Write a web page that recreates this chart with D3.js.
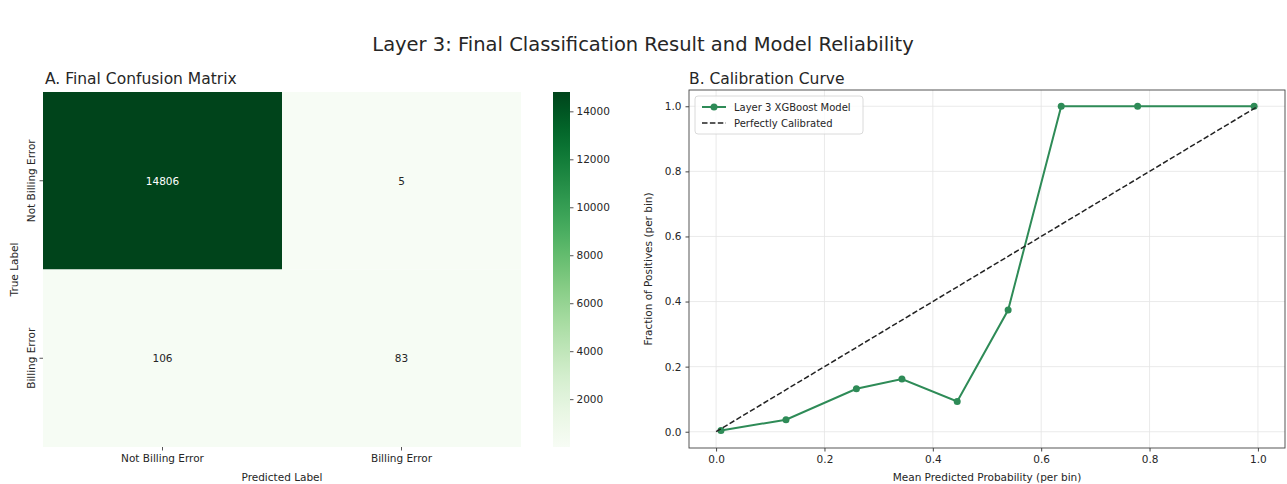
<!DOCTYPE html>
<html>
<head>
<meta charset="utf-8">
<script src="https://cdn.jsdelivr.net/npm/d3@7"></script>
<style>
  body { margin: 0; background: #fff; }
  text { font-family: "DejaVu Sans", sans-serif; fill: #262626; }
</style>
</head>
<body>
<div id="chart"></div>
<script>
// confusion matrix data
let classes = ["Not Billing Error", "Billing Error"];
let matrix = [
    [14806, 5],
    [106, 83]
];
let cbTicks = [2000, 4000, 6000, 8000, 10000, 12000, 14000];

// calibration curve data
let meanPred = [0.009, 0.129, 0.259, 0.343, 0.445, 0.539, 0.637, 0.778, 0.993];
let fracPos = [0.004, 0.037, 0.132, 0.162, 0.093, 0.374, 1.0, 1.0, 1.0];
let perfect = [0, 1];
let probTicks = [0, 0.2, 0.4, 0.6, 0.8, 1.0];

let colorLine = "#2e8b57";
let tickFont = "10.5px";

let width = 1287,
    height = 484;

let svg = d3.select("#chart")
    .append("svg")
    .attr("width", width)
    .attr("height", height);

svg.append("text")
    .attr("x", 643)
    .attr("y", 51)
    .attr("text-anchor", "middle")
    .style("font-size", "19.5px")
    .text("Layer 3: Final Classification Result and Model Reliability");

// ---------- A. confusion matrix ----------
let hm = {left: 43, right: 521, top: 92, bottom: 447};
let flat = matrix.flat();
let color = d3.scaleSequential(d3.interpolateGreens)
    .domain([d3.min(flat), d3.max(flat)]);

let xBand = d3.scaleBand().domain(classes).range([hm.left, hm.right]);
let yBand = d3.scaleBand().domain(classes).range([hm.top, hm.bottom]);

let gA = svg.append("g");

gA.append("text")
    .attr("x", hm.left + 2)
    .attr("y", 84)
    .style("font-size", "15.5px")
    .text("A. Final Confusion Matrix");

let cells = [];
matrix.forEach(function(row, i) {
    row.forEach(function(v, j) {
        cells.push({r: classes[i], c: classes[j], v: v});
    });
});

gA.selectAll(".cell")
    .data(cells)
    .enter()
    .append("rect")
    .attr("class", "cell")
    .attr("x", function(d) { return xBand(d.c); })
    .attr("y", function(d) { return yBand(d.r); })
    .attr("width", xBand.bandwidth())
    .attr("height", yBand.bandwidth())
    .style("fill", function(d) { return color(d.v); });

gA.selectAll(".annot")
    .data(cells)
    .enter()
    .append("text")
    .attr("class", "annot")
    .attr("x", function(d) { return xBand(d.c) + xBand.bandwidth() / 2; })
    .attr("y", function(d) { return yBand(d.r) + yBand.bandwidth() / 2; })
    .attr("text-anchor", "middle")
    .attr("dominant-baseline", "central")
    .style("font-size", tickFont)
    .style("fill", function(d) { return d.v > 7000 ? "#ffffff" : "#262626"; })
    .text(function(d) { return d.v; });

let xAxisA = gA.append("g")
    .attr("transform", "translate(0," + hm.bottom + ")")
    .call(d3.axisBottom(xBand).tickSize(3.5).tickPadding(4));
let yAxisA = gA.append("g")
    .attr("transform", "translate(" + hm.left + ",0)")
    .call(d3.axisLeft(yBand).tickSize(3.5).tickPadding(4));
[xAxisA, yAxisA].forEach(function(a) {
    a.select(".domain").remove();
    a.selectAll("line").style("stroke", "#555");
    a.selectAll("text").style("font-size", tickFont).style("fill", "#262626")
        .style("font-family", "DejaVu Sans");
});
yAxisA.selectAll("text")
    .attr("transform", "rotate(-90)")
    .attr("x", 0)
    .attr("y", -8)
    .attr("text-anchor", "middle")
    .attr("dy", 0);

gA.append("text")
    .attr("x", (hm.left + hm.right) / 2)
    .attr("y", 481)
    .attr("text-anchor", "middle")
    .style("font-size", tickFont)
    .text("Predicted Label");
gA.append("text")
    .attr("transform", "translate(18," + (hm.top + hm.bottom) / 2 + ") rotate(-90)")
    .attr("text-anchor", "middle")
    .style("font-size", tickFont)
    .text("True Label");

// colorbar
let cb = {left: 553, width: 17};
let cbScale = d3.scaleLinear()
    .domain(color.domain())
    .range([hm.bottom, hm.top]);

let grad = svg.append("defs").append("linearGradient")
    .attr("id", "cbgrad")
    .attr("x1", 0).attr("y1", 1).attr("x2", 0).attr("y2", 0);
d3.range(0, 1.0001, 0.05).forEach(function(t) {
    grad.append("stop")
        .attr("offset", t)
        .attr("stop-color", d3.interpolateGreens(t));
});
gA.append("rect")
    .attr("x", cb.left)
    .attr("y", hm.top)
    .attr("width", cb.width)
    .attr("height", hm.bottom - hm.top)
    .style("fill", "url(#cbgrad)");

let cbAxis = gA.append("g")
    .attr("transform", "translate(" + (cb.left + cb.width) + ",0)")
    .call(d3.axisRight(cbScale).tickValues(cbTicks).tickFormat(d3.format("d")).tickSize(3.5).tickPadding(3));
cbAxis.select(".domain").remove();
cbAxis.selectAll("line").style("stroke", "#555");
cbAxis.selectAll("text").style("font-size", tickFont).style("fill", "#262626")
    .style("font-family", "DejaVu Sans");

// ---------- B. calibration curve ----------
let cal = {left: 689, right: 1285, top: 90, bottom: 448};
let x = d3.scaleLinear().domain([-0.05, 1.05]).range([cal.left, cal.right]);
let y = d3.scaleLinear().domain([-0.05, 1.05]).range([cal.bottom, cal.top]);

let gB = svg.append("g");

gB.append("text")
    .attr("x", cal.left + 0)
    .attr("y", 84)
    .style("font-size", "15.5px")
    .text("B. Calibration Curve");

// grid
gB.selectAll(".vgrid")
    .data(probTicks)
    .enter()
    .append("line")
    .attr("class", "vgrid")
    .attr("x1", function(d) { return x(d); })
    .attr("x2", function(d) { return x(d); })
    .attr("y1", cal.top)
    .attr("y2", cal.bottom)
    .style("stroke", "#e4e4e4")
    .style("stroke-width", 0.8);
gB.selectAll(".hgrid")
    .data(probTicks)
    .enter()
    .append("line")
    .attr("class", "hgrid")
    .attr("y1", function(d) { return y(d); })
    .attr("y2", function(d) { return y(d); })
    .attr("x1", cal.left)
    .attr("x2", cal.right)
    .style("stroke", "#e4e4e4")
    .style("stroke-width", 0.8);

let calPts = meanPred.map(function(d, i) { return [d, fracPos[i]]; });
let line = d3.line()
    .x(function(d) { return x(d[0]); })
    .y(function(d) { return y(d[1]); });

gB.append("path")
    .datum(calPts)
    .attr("d", line)
    .style("fill", "none")
    .style("stroke", colorLine)
    .style("stroke-width", 2);

gB.selectAll(".pt")
    .data(calPts)
    .enter()
    .append("circle")
    .attr("class", "pt")
    .attr("cx", function(d) { return x(d[0]); })
    .attr("cy", function(d) { return y(d[1]); })
    .attr("r", 3.5)
    .style("fill", colorLine);

gB.append("path")
    .datum(perfect.map(function(d) { return [d, d]; }))
    .attr("d", line)
    .style("fill", "none")
    .style("stroke", "#222")
    .style("stroke-width", 1.5)
    .style("stroke-dasharray", "5.5,2.4");

// frame
gB.append("rect")
    .attr("x", cal.left)
    .attr("y", cal.top)
    .attr("width", cal.right - cal.left)
    .attr("height", cal.bottom - cal.top)
    .style("fill", "none")
    .style("stroke", "#444")
    .style("stroke-width", 0.9);

let xAxisB = gB.append("g")
    .attr("transform", "translate(0," + cal.bottom + ")")
    .call(d3.axisBottom(x).tickValues(probTicks).tickFormat(d3.format(".1f")).tickSize(3.5).tickPadding(4));
let yAxisB = gB.append("g")
    .attr("transform", "translate(" + cal.left + ",0)")
    .call(d3.axisLeft(y).tickValues(probTicks).tickFormat(d3.format(".1f")).tickSize(3.5).tickPadding(4));
[xAxisB, yAxisB].forEach(function(a) {
    a.select(".domain").remove();
    a.selectAll("line").style("stroke", "#444");
    a.selectAll("text").style("font-size", tickFont).style("fill", "#262626")
        .style("font-family", "DejaVu Sans");
});

gB.append("text")
    .attr("x", (cal.left + cal.right) / 2)
    .attr("y", 481)
    .attr("text-anchor", "middle")
    .style("font-size", tickFont)
    .text("Mean Predicted Probability (per bin)");
gB.append("text")
    .attr("transform", "translate(652," + (cal.top + cal.bottom) / 2 + ") rotate(-90)")
    .attr("text-anchor", "middle")
    .style("font-size", tickFont)
    .text("Fraction of Positives (per bin)");

// legend
let legendItems = [
    {label: "Layer 3 XGBoost Model", dash: null, stroke: colorLine, marker: true},
    {label: "Perfectly Calibrated", dash: "5.5,2.4", stroke: "#222", marker: false}
];
let lg = gB.append("g").attr("transform", "translate(" + (cal.left + 6) + "," + (cal.top + 6) + ")");
lg.append("rect")
    .attr("width", 168)
    .attr("height", 38)
    .attr("rx", 3)
    .style("fill", "#fff")
    .style("fill-opacity", 0.8)
    .style("stroke", "#d0d0d0")
    .style("stroke-width", 0.8);
let li = lg.selectAll(".li")
    .data(legendItems)
    .enter()
    .append("g")
    .attr("class", "li")
    .attr("transform", function(d, i) { return "translate(7," + (11 + i * 16) + ")"; });
li.append("line")
    .attr("x1", 0).attr("x2", 24)
    .style("stroke", function(d) { return d.stroke; })
    .style("stroke-width", function(d) { return d.marker ? 2 : 1.5; })
    .style("stroke-dasharray", function(d) { return d.dash; });
li.filter(function(d) { return d.marker; })
    .append("circle")
    .attr("cx", 12)
    .attr("r", 3.5)
    .style("fill", colorLine);
li.append("text")
    .attr("x", 32)
    .attr("dy", "0.35em")
    .style("font-size", "10px")
    .text(function(d) { return d.label; });
</script>
</body>
</html>
